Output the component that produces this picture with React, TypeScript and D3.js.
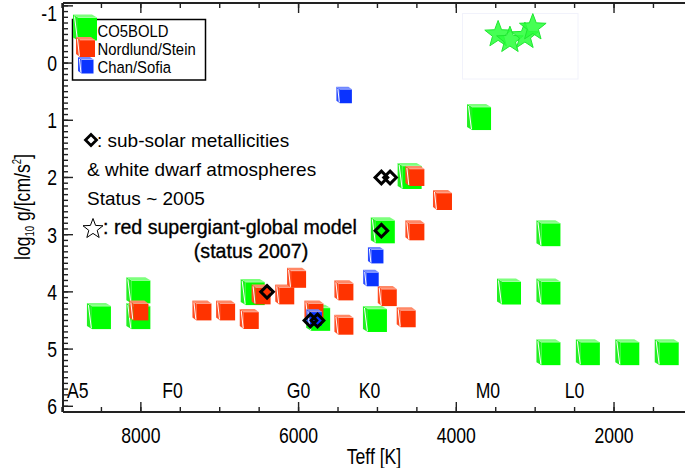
import { range, scaleLinear } from 'd3';

// CO5BOLD models (Teff [K], log g)
const greenTeff = [8500, 8000, 8000, 6550, 5720, 5000, 4560, 4900, 3680, 3300, 2800, 2800, 2800, 2300, 1800, 1300];
const greenLogg = [4.45, 4.0, 4.45, 4.03, 4.48, 4.5, 2.0, 2.95, 0.97, 4.02, 3.0, 4.02, 5.08, 5.08, 5.08, 5.08];

// Nordlund/Stein models
const redTeff = [8000, 7200, 6900, 6600, 6450, 6150, 6000, 5780, 5400, 5400, 4850, 4610, 4500, 4150, 4500];
const redLogg = [4.35, 4.35, 4.35, 4.5, 4.07, 4.07, 3.78, 4.35, 4.0, 4.6, 4.1, 4.47, 2.0, 2.42, 2.95];

// Chan/Sofia models
const blueTeff = [5400, 5000, 5060, 5780];
const blueLogg = [0.58, 3.38, 3.78, 4.47];

// sub-solar metallicity markers
const diamondTeff = [6400, 5850, 5760, 4950, 4840, 4950];
const diamondLogg = [4.0, 4.5, 4.5, 2.0, 2.0, 2.93];

// red supergiant global models
const starTeff = [3470, 3320, 3130, 3030];
const starLogg = [-0.5, -0.4, -0.47, -0.62];

const spectralLabels = ['A5', 'F0', 'G0', 'K0', 'M0', 'L0'];
const spectralTeff = [8800, 7600, 6000, 5100, 3600, 2500];

const legendLabels = ['CO5BOLD', 'Nordlund/Stein', 'Chan/Sofia'];

const xTicks = [8000, 6000, 4000, 2000];
const yTicks = [-1, 0, 1, 2, 3, 4, 5, 6];

const WIDTH = 685;
const HEIGHT = 468;
const LEFT = 63;
const RIGHT = 685;
const TOP = 3;
const BOTTOM = 412;
const FONT = '"Liberation Sans", Arial, Helvetica, sans-serif';
const NARROW = 0.8;

const xScale = scaleLinear().domain([9000, 1100]).range([62, 685]);
const yScale = scaleLinear().domain([-1.05, 6.1]).range([TOP, BOTTOM]);

type CubeStyle = { color: string; light: string; side: string; w: number; h: number; dx: number; dy: number };

const GREEN: CubeStyle = { color: '#00ff00', light: '#7dff7d', side: '#22f022', w: 19, h: 23, dx: 5, dy: 3 };
const RED: CubeStyle = { color: '#ff3300', light: '#ff8866', side: '#ff4d22', w: 15, h: 17, dx: 4, dy: 3 };
const BLUE: CubeStyle = { color: '#0a33ff', light: '#7088ff', side: '#2a4cff', w: 12, h: 14, dx: 3.5, dy: 2.5 };

function Cube({ cx, cy, s }: { cx: number; cy: number; s: CubeStyle }) {
  const x0 = cx - s.w / 2;
  const y0 = cy - s.h / 2;
  const left = `M${x0},${y0}L${x0 - s.dx},${y0 - s.dy}L${x0 - s.dx},${y0 + s.h - s.dy}L${x0},${y0 + s.h}Z`;
  const top = `M${x0},${y0}L${x0 - s.dx},${y0 - s.dy}L${x0 + s.w - s.dx},${y0 - s.dy}L${x0 + s.w},${y0}Z`;
  return (
    <g>
      <path d={left} fill={s.side} />
      <path d={top} fill={s.light} />
      <rect x={x0} y={y0} width={s.w} height={s.h} fill={s.color} />
      <line x1={x0 - s.dx + 1.5} y1={y0 - s.dy + 2} x2={x0 - 0.6} y2={y0 + s.h - 1} stroke="#ffffff" strokeWidth={1} />
      <line x1={x0} y1={y0} x2={x0 + s.w} y2={y0} stroke="#ffffff" strokeWidth={0.6} opacity={0.7} />
    </g>
  );
}

function diamondPath(cx: number, cy: number, r: number) {
  return `M${cx},${cy - r}L${cx + r},${cy}L${cx},${cy + r}L${cx - r},${cy}Z`;
}

function starPath(cx: number, cy: number, R: number) {
  const r = R * 0.42;
  const pts = range(10).map((i) => {
    const a = -Math.PI / 2 + (i * Math.PI) / 5;
    const rad = i % 2 === 0 ? R : r;
    return `${cx + rad * Math.cos(a)},${cy + rad * Math.sin(a)}`;
  });
  return `M${pts.join('L')}Z`;
}

function NText({
  x,
  y,
  size,
  anchor = 'start',
  sx = NARROW,
  children,
  bold = false,
}: {
  x: number;
  y: number;
  size: number;
  anchor?: 'start' | 'middle' | 'end';
  sx?: number;
  children: React.ReactNode;
  bold?: boolean;
}) {
  return (
    <text
      transform={`translate(${x},${y}) scale(${sx},1)`}
      fontFamily={FONT}
      fontSize={size}
      textAnchor={anchor}
      fill="#000"
      stroke={bold ? '#000' : 'none'}
      strokeWidth={bold ? 0.35 : 0}
    >
      {children}
    </text>
  );
}

export default function App() {
  const yMinor = range(-10, 61).map((v) => v / 10);
  const xMinor = range(1500, 9001, 500);
  const axisColor = '#222';
  const legendStyles = [GREEN, RED, BLUE];
  const legendCubeY = [29, 48.5, 66.5];

  return (
    <div style={{ position: 'fixed', left: 0, top: 0, width: WIDTH, height: HEIGHT, background: '#fff' }}>
      <svg width={WIDTH} height={HEIGHT} viewBox={`0 0 ${WIDTH} ${HEIGHT}`} style={{ display: 'block' }}>
        <rect width={WIDTH} height={HEIGHT} fill="#fff" />

        {/* stars box */}
        <rect x={462.5} y={13.5} width={115.5} height={65.5} fill="none" stroke="#f1f2fb" strokeWidth={1} />

        {/* cubes */}
        {greenTeff.map((t, i) => (
          <Cube key={`g${i}`} cx={xScale(t)} cy={yScale(greenLogg[i])} s={GREEN} />
        ))}
        {redTeff.map((t, i) => (
          <Cube key={`r${i}`} cx={xScale(t)} cy={yScale(redLogg[i])} s={RED} />
        ))}
        {blueTeff.map((t, i) => (
          <Cube key={`b${i}`} cx={xScale(t)} cy={yScale(blueLogg[i])} s={BLUE} />
        ))}

        {diamondTeff.map((t, i) => (
          <path
            key={`d${i}`}
            d={diamondPath(xScale(t), yScale(diamondLogg[i]), 6.3)}
            fill="none"
            stroke="#000"
            strokeWidth={3}
          />
        ))}

        {starTeff.map((t, i) => (
          <path
            key={`s${i}`}
            d={starPath(xScale(t), yScale(starLogg[i]), 14)}
            fill="#2cff3c"
            fillOpacity={0.88}
            stroke="#1ee830"
            strokeWidth={1}
          />
        ))}

        {/* legend */}
        <rect x={72.5} y={19.5} width={133} height={60.5} fill="#fff" stroke="#000" strokeWidth={1.5} />
        {legendLabels.map((label, i) => (
          <g key={label}>
            <Cube cx={87.5} cy={legendCubeY[i]} s={legendStyles[i]} />
            <NText x={97.5} y={37 + i * 18} size={16.5} sx={0.9}>
              {label}
            </NText>
          </g>
        ))}

        {/* annotations */}
        <path d={diamondPath(91, 140, 5.5)} fill="none" stroke="#000" strokeWidth={2.8} />
        <NText x={97} y={147} size={19} sx={1}>: sub-solar metallicities</NText>
        <NText x={87} y={176} size={19} sx={1}>&amp; white dwarf atmospheres</NText>
        <NText x={87} y={205} size={19} sx={1}>Status ~ 2005</NText>
        <path d={starPath(93, 229, 10.5)} fill="none" stroke="#000" strokeWidth={1} />
        <NText x={103} y={234} size={20} sx={0.98} bold>: red supergiant-global model</NText>
        <NText x={251} y={258} size={20} sx={0.98} anchor="middle" bold>(status 2007)</NText>

        {/* spectral types */}
        {spectralLabels.map((s, i) => (
          <NText key={s} x={xScale(spectralTeff[i])} y={yScale(5.72) + 8} size={22} anchor="middle">
            {s}
          </NText>
        ))}

        {/* axes */}
        <g stroke={axisColor} strokeWidth={1.4}>
          <line x1={LEFT} y1={TOP} x2={LEFT} y2={BOTTOM} strokeWidth={2} />
          <line x1={LEFT} y1={BOTTOM} x2={RIGHT} y2={BOTTOM} strokeWidth={2} />
          <line x1={LEFT} y1={TOP} x2={RIGHT} y2={TOP} strokeWidth={2} />
          {yMinor.map((v) => (
            <line key={`ym${v}`} x1={LEFT} x2={LEFT + 5} y1={yScale(v)} y2={yScale(v)} />
          ))}
          {yTicks.map((v) => (
            <line key={`yM${v}`} x1={LEFT} x2={LEFT + 10} y1={yScale(v)} y2={yScale(v)} />
          ))}
          {xMinor.map((v) => (
            <g key={`xm${v}`}>
              <line x1={xScale(v)} x2={xScale(v)} y1={BOTTOM} y2={BOTTOM - 5} />
              <line x1={xScale(v)} x2={xScale(v)} y1={TOP} y2={TOP + 5} />
            </g>
          ))}
          {xTicks.map((v) => (
            <g key={`xM${v}`}>
              <line x1={xScale(v)} x2={xScale(v)} y1={BOTTOM} y2={BOTTOM - 10} />
              <line x1={xScale(v)} x2={xScale(v)} y1={TOP} y2={TOP + 10} />
            </g>
          ))}
        </g>

        {yTicks.map((v) => (
          <NText key={`yl${v}`} x={57} y={v === -1 ? yScale(v) + 15 : yScale(v) + 8} size={22} anchor="end">
            {String(v)}
          </NText>
        ))}
        {xTicks.map((v) => (
          <NText key={`xl${v}`} x={xScale(v)} y={443} size={22} anchor="middle">
            {String(v)}
          </NText>
        ))}

        <NText x={(LEFT + RIGHT) / 2} y={464} size={22} anchor="middle">
          Teff [K]
        </NText>

        <text
          transform={`translate(30,207) rotate(-90) scale(${NARROW},1)`}
          fontFamily={FONT}
          fontSize={22}
          textAnchor="middle"
          fill="#000"
        >
          log<tspan fontSize={12} dy={4}>10</tspan>
          <tspan dy={-4}> g/[cm/s</tspan>
          <tspan fontSize={12} dy={-9}>2</tspan>
          <tspan dy={9}>]</tspan>
        </text>
      </svg>
    </div>
  );
}
